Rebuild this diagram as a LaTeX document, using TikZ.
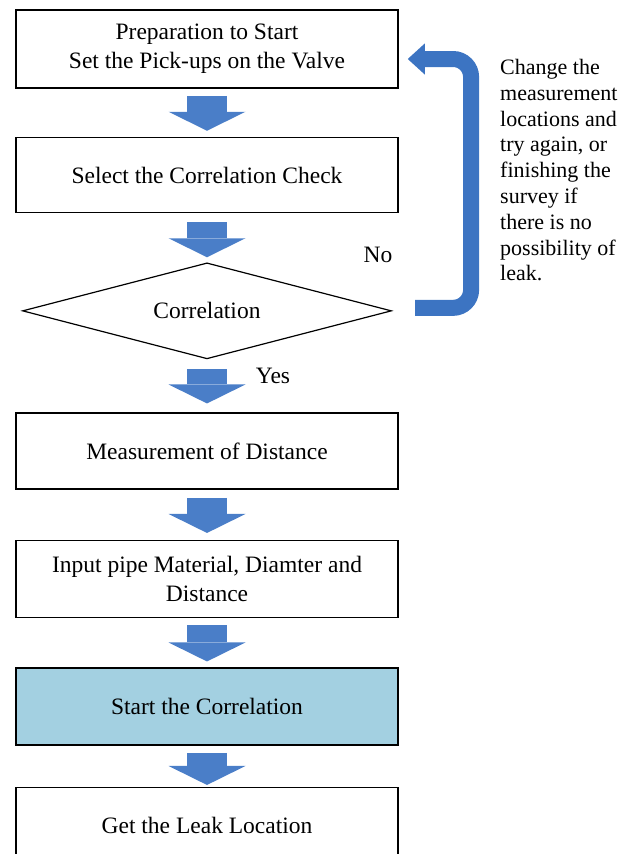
\documentclass[tikz,border=0pt]{standalone}
\usepackage{fontspec}
\setmainfont{Liberation Serif}
\usetikzlibrary{arrows.meta, positioning, shapes.geometric}
\definecolor{flowblue}{HTML}{4A7EC8}
\definecolor{loopblue}{HTML}{3C74C2}
\definecolor{startbg}{HTML}{A3D0E1}

\begin{document}
\begin{tikzpicture}[
    x=1pt, y=1pt,
    node distance=50pt,
    stepbox/.style={rectangle, draw=black, line width=1.5pt, minimum width=382pt, minimum height=76pt, inner sep=0pt, align=center, font=\fontsize{23.5}{29}\selectfont},
    decision/.style={diamond, aspect=3.84, draw=black, line width=1.2pt, minimum width=369pt, minimum height=96pt, inner sep=0pt, font=\fontsize{23.5}{29}\selectfont},
    flowline/.style={-{Triangle[width=77pt, length=19pt, line width=0pt]}, line width=40pt, flowblue, shorten <=7pt, shorten >=6pt},
    loopline/.style={-{Triangle[width=31pt, length=17pt, line width=0pt]}, line width=16pt, loopblue, rounded corners=18pt},
    tag/.style={inner sep=0pt, font=\fontsize{23.5}{29}\selectfont},
    note/.style={inner sep=0pt, align=left, font=\fontsize{22}{25.8}\selectfont},
  ]
  \useasboundingbox (0,0) rectangle (630,-854);
  % Steps
  \node[stepbox, minimum height=78pt] (prep) at (207,-49) {Preparation to Start\\Set the Pick-ups on the Valve};
  \node[stepbox, minimum height=75pt, below=48pt of prep] (sel) {Select the Correlation Check};
  \node[decision, below=49pt of sel] (dec) {Correlation};
  \node[stepbox, below=53pt of dec] (meas) {Measurement of Distance};
  \node[stepbox, minimum height=77pt, below=50pt of meas] (inp) {Input pipe Material, Diamter and\\Distance};
  \node[stepbox, minimum height=77pt, fill=startbg, below=49pt of inp] (start) {Start the Correlation};
  \node[stepbox, below=41pt of start] (leak) {Get the Leak Location};
  % Labels
  \node[tag] (no) at ([xshift=171pt, yshift=7pt]dec.north) {No};
  \node[tag] (yes) at ([xshift=66pt, yshift=-16pt]dec.south) {Yes};
  \node[note, anchor=north west] (retry) at (500,-59) {Change the\\measurement\\locations and\\try again, or\\finishing the\\survey if\\there is no\\possibility of\\leak.};
  % Block arrows
  \draw[flowline] (prep) -- (sel);
  \draw[flowline, shorten <=9pt, shorten >=5pt] (sel) -- (dec);
  \draw[flowline, shorten <=10pt, shorten >=9pt] (dec) -- (meas);
  \draw[flowline, shorten <=8pt, shorten >=7pt] (meas) -- (inp);
  \draw[flowline] (inp) -- (start);
  \draw[flowline, shorten >=2pt] (start) -- (leak);
  % Loop back
  \coordinate (nofrom) at ([xshift=23pt, yshift=3pt]dec.east);
  \coordinate (noto) at ([xshift=9pt, yshift=-10pt]prep.east);
  \draw[loopline] (nofrom) -- ++(56pt,0) |- (noto);
\end{tikzpicture}
\end{document}
